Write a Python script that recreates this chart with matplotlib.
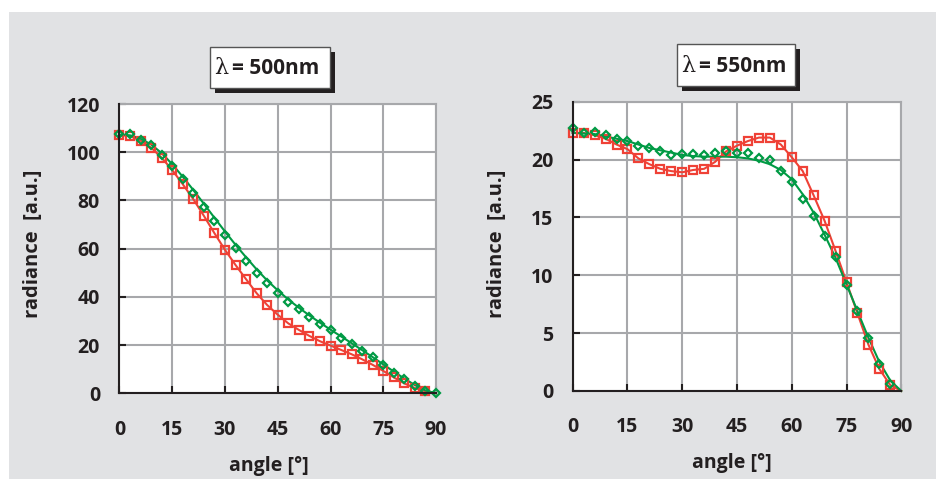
import matplotlib
matplotlib.use("Agg")
import matplotlib.pyplot as plt
from matplotlib.patches import Rectangle

# ---------------- data ----------------
angles = list(range(0, 91, 3))

r500_red = [107.1, 106.7, 104.8, 101.9, 97.7, 92.6, 86.7, 80.5, 73.6, 66.4,
            59.5, 53.2, 47.3, 41.5, 36.6, 32.6, 29.0, 26.3, 23.8, 21.6,
            19.8, 18.0, 16.2, 14.1, 11.8, 9.3, 6.6, 4.1, 2.2, 0.8, 0.0]
r500_green = [107.4, 107.4, 105.1, 103.0, 98.9, 94.3, 88.8, 83.2, 77.1, 71.3,
              65.7, 60.1, 55.0, 49.8, 45.6, 41.5, 37.9, 35.0, 31.8, 28.8,
              26.3, 23.1, 20.3, 17.7, 14.9, 11.8, 8.6, 5.8, 3.0, 1.0, 0.3]
r500_green_fit = [107.3, 107.0, 105.6, 103.2, 99.6, 95.0, 89.8, 84.3, 78.6, 72.8,
                  67.1, 61.6, 56.4, 51.4, 46.8, 42.7, 38.9, 35.5, 32.3, 29.3,
                  26.4, 23.6, 20.8, 17.9, 15.0, 12.0, 9.0, 6.1, 3.4, 1.2, 0.0]

r550_red = [22.3, 22.3, 22.1, 21.8, 21.3, 20.9, 20.1, 19.6, 19.2, 19.0,
            18.9, 19.1, 19.2, 19.8, 20.7, 21.2, 21.6, 21.9, 21.9, 21.3,
            20.2, 19.0, 16.9, 14.7, 12.1, 9.4, 6.7, 4.0, 1.9, 0.5, 0.0]
r550_green = [22.75, 22.3, 22.4, 22.1, 21.8, 21.6, 21.2, 21.0, 20.7, 20.4,
              20.5, 20.5, 20.4, 20.6, 20.7, 20.6, 20.6, 20.1, 20.0, 19.0,
              18.1, 16.6, 15.1, 13.4, 11.6, 9.2, 6.9, 4.6, 2.3, 0.6, 0.0]
r550_green_fit = [22.3, 22.25, 22.2, 22.0, 21.8, 21.6, 21.3, 21.0, 20.8, 20.6,
                  20.4, 20.3, 20.25, 20.25, 20.25, 20.2, 20.1, 19.9, 19.6, 19.1,
                  18.3, 17.0, 15.4, 13.5, 11.5, 9.2, 6.9, 4.6, 2.5, 0.9, 0.0]

x_ticks = [0, 15, 30, 45, 60, 75, 90]
y_ticks_500 = [0, 20, 40, 60, 80, 100, 120]
y_ticks_550 = [0, 5, 10, 15, 20, 25]
titles = ["= 500nm", "= 550nm"]
xlabel = "angle [°]"
ylabel = "radiance  [a.u.]"

# ---------------- style ----------------
RED = "#ef4136"
GREEN = "#009a44"
GRAY_BG = "#e1e2e4"
GRID = "#a7a8ab"
TXT = "#231f20"
FONT = ["Open Sans", "DejaVu Sans"]

W, H = 937, 479
fig = plt.figure(figsize=(W / 100, H / 100), dpi=100)
fig.patch.set_facecolor("white")

def fx(px):
    return px / W

def fy(py):
    return 1 - py / H

# gray panel
fig.patches.append(Rectangle((fx(9), 0), 1 - fx(9), fy(12), transform=fig.transFigure,
                             facecolor=GRAY_BG, edgecolor="none", zorder=-5))

ax1 = fig.add_axes([fx(119.5), fy(393.3), fx(436) - fx(119.5), fy(104) - fy(393.3)])
ax2 = fig.add_axes([fx(572.7), fy(391), fx(901.3) - fx(572.7), fy(101.7) - fy(391)])

def style(ax, yticks, ymax):
    ax.set_facecolor("white")
    ax.set_xlim(0, 90)
    ax.set_ylim(0, ymax)
    ax.set_xticks(x_ticks)
    ax.set_yticks(yticks)
    ax.grid(True, color=GRID, linewidth=1.5, zorder=1)
    ax.set_axisbelow(True)
    for s in ("top", "right"):
        ax.spines[s].set_color(GRID)
        ax.spines[s].set_linewidth(1.5)
    for s in ("left", "bottom"):
        ax.spines[s].set_color(TXT)
        ax.spines[s].set_linewidth(1.5)
        ax.spines[s].set_zorder(5)
    ax.tick_params(axis="both", direction="in", length=5, width=1.5, color=TXT,
                   labelcolor=TXT)
    ax.tick_params(axis="x", pad=19)
    ax.tick_params(axis="y", pad=14)
    for lab in ax.get_xticklabels() + ax.get_yticklabels():
        lab.set_fontfamily(FONT)
        lab.set_fontweight("bold")
        lab.set_fontsize(14)

style(ax1, y_ticks_500, 120)
style(ax2, y_ticks_550, 25)

def draw(ax, red, green, green_fit, green_last=True):
    ax.plot(angles, red, color=RED, lw=1.5, zorder=3, clip_on=False)
    ax.plot(angles, green_fit, color=GREEN, lw=1.5, zorder=3, clip_on=False)
    ax.plot(angles, red, linestyle="none", marker="s", ms=5.5, mfc="none",
            mec=RED, mew=1.6, zorder=4, clip_on=False,
            markevery=slice(0, len(angles) - 1))
    ax.plot(angles, green, linestyle="none", marker="D", ms=4, mfc="none",
            mec=GREEN, mew=1.6, zorder=4, clip_on=False,
            markevery=slice(0, len(angles) if green_last else len(angles) - 1))

draw(ax1, r500_red, r500_green, r500_green_fit, True)
draw(ax2, r550_red, r550_green, r550_green_fit, False)

# axis labels
for cx, cy in ((269, 466), (732, 463)):
    fig.text(fx(cx), fy(cy), xlabel, ha="center", va="center", fontsize=14,
             fontweight="bold", family=FONT, color=TXT)
for cx, cy in ((33, 244), (497, 244)):
    fig.text(fx(cx), fy(cy), ylabel, ha="center", va="center", fontsize=14.5,
             fontweight="bold", family=FONT, color=TXT, rotation=90)

# title boxes with shadow
for (x0, y0, x1, y1), t in (((210, 47, 330, 88), titles[0]), ((677, 44, 795, 86), titles[1])):
    fig.patches.append(Rectangle((fx(x0 + 5), fy(y1 + 5)), fx(x1 - x0), fy(y0) - fy(y1),
                                 transform=fig.transFigure, facecolor=TXT,
                                 edgecolor="none", zorder=2))
    fig.patches.append(Rectangle((fx(x0), fy(y1)), fx(x1 - x0), fy(y0) - fy(y1),
                                 transform=fig.transFigure, facecolor="white",
                                 edgecolor="#555555", linewidth=1, zorder=3))
    cy = (y0 + y1) / 2
    fig.text(fx(x0 + 4), fy(cy + 1), "λ", ha="left", va="center", fontsize=16,
             family=["DejaVu Serif"], color=TXT, zorder=4)
    fig.text(fx(x0 + 22), fy(cy + 1), t, ha="left", va="center", fontsize=15,
             fontweight="bold", family=FONT, color=TXT, zorder=4)

fig.savefig("out.png", dpi=100, facecolor=fig.get_facecolor())
